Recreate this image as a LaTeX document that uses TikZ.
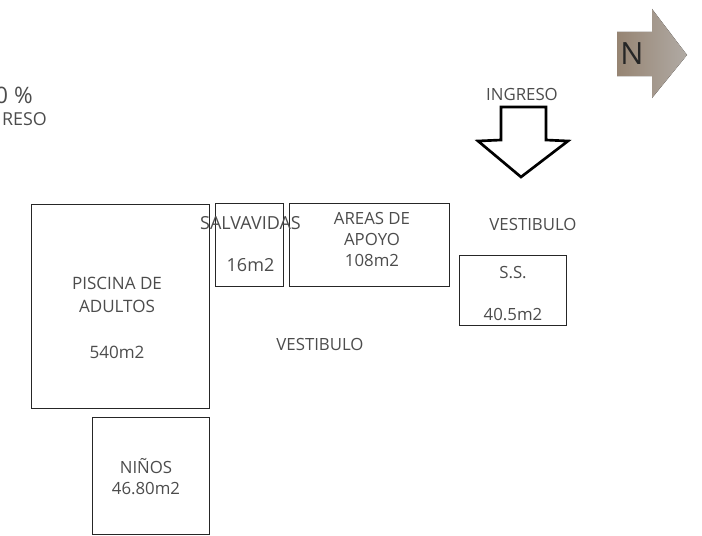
\documentclass[tikz,border=0pt]{standalone}
\usepackage{fontspec}
\setmainfont{Open Sans}
\usepackage{tikz}
\usetikzlibrary{positioning}

\begin{document}
\begin{tikzpicture}[
    x=0.75pt, y=-0.75pt,
    room/.style={
        draw=black!85, line width=0.75pt, inner sep=0pt, outer sep=0pt
    },
    rotulo/.style={
        align=center, inner sep=0pt, text=black!70,
        font=\fontsize{12.6}{15.75}\selectfont
    },
    bigarrow/.style={draw=black, line width=2pt, line join=miter, fill=white},
    northarrow/.style={left color=brown!45!black!62, right color=brown!25!black!38}
]
\useasboundingbox (0,0) rectangle (702,535);

% 1. Rooms
\node[room, minimum width=133.5pt, minimum height=153pt] (piscina) at (120.2,306.2) {};
\node[room, minimum width=87.75pt, minimum height=87.75pt] (ninos) at (150.7,475.7) {};
\node[room, minimum width=51pt, minimum height=62.25pt] (salvavidas) at (249.2,244.7) {};
\node[room, minimum width=120pt, minimum height=62.25pt] (apoyo) at (369.2,244.7) {};
\node[room, minimum width=80.25pt, minimum height=52.5pt] (ss) at (512.7,290.2) {};

% 2. Labels
\node[rotulo, font=\fontsize{12.8}{17.25}\selectfont] (piscina_txt) at (117,318) {PISCINA DE\\ADULTOS\\ \\540m2};
\node[rotulo] (ninos_txt) at (146,477) {NIÑOS\\46.80m2};
\node[rotulo, font=\fontsize{13.5}{15.75}\selectfont] (salvavidas_txt) at (250.5,244) {SALVAVIDAS\\ \\16m2};
\node[rotulo] (apoyo_txt) at (372,239) {AREAS DE\\APOYO\\108m2};
\node[rotulo] (ss_txt) at (513,294) {S.S.\\ \\40.5m2};
\node[rotulo] (vestibulo_a) at (320,344) {VESTIBULO};
\node[rotulo] (vestibulo_b) at (533,224) {VESTIBULO};
\node[rotulo] (ingreso) at (522,94) {INGRESO};

% 3. Cut off text on the left edge
\node[rotulo, anchor=east, font=\fontsize{17}{20}\selectfont] (porcentaje) at (33,95) {0 \%};
\node[rotulo, anchor=east, font=\fontsize{13.4}{16}\selectfont] (ingreso_b) at (47,119) {RESO};

% 4. Arrows
\draw[bigarrow] (501,107) -- (546,107) -- (546,140) -- (568,141) -- (521,177) -- (478,141) -- (501,140) -- cycle;
\fill[northarrow] (617,32) -- (652,32) -- (652,9) -- (687,55) -- (652,98) -- (652,76) -- (617,76) -- cycle;
\node[inner sep=0pt, text=black!85, font=\fontsize{23}{24}\selectfont] (norte) at (632,54) {N};
\end{tikzpicture}
\end{document}
